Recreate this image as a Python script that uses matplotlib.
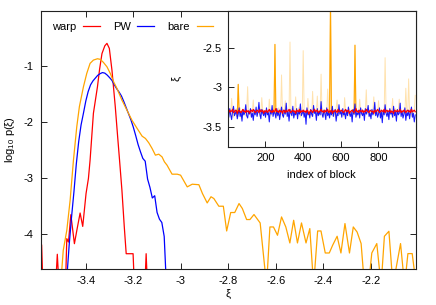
import numpy as np
import matplotlib
matplotlib.use("Agg")
import matplotlib.pyplot as plt

plt.rcParams['font.family'] = ['Liberation Sans', 'DejaVu Sans']
plt.rcParams['mathtext.fontset'] = 'custom'
plt.rcParams['mathtext.rm'] = 'Liberation Sans'
plt.rcParams['mathtext.it'] = 'Liberation Sans:italic'
plt.rcParams['font.size'] = 8

# ---------------- main panel: log10 p(xi) ----------------
warp_x = [-3.592, -3.586, -3.580, -3.528, -3.520, -3.512, -3.486, -3.480, -3.473,
          -3.463, -3.448, -3.436, -3.424, -3.413, -3.399, -3.389, -3.382, -3.368,
          -3.351, -3.342, -3.332, -3.320, -3.311, -3.301, -3.290, -3.276, -3.266,
          -3.258, -3.248, -3.238, -3.230, -3.201, -3.195, -3.152, -3.146, -3.140]
warp_y = [-5.0, -4.20, -5.0, -5.0, -4.37, -5.0, -5.0, -4.09, -4.15,
          -3.66, -4.18, -3.90, -3.63, -3.87, -3.28, -3.01, -2.68, -1.84,
          -1.365, -1.05, -0.77, -0.63, -0.586, -0.676, -1.065, -1.72, -2.26,
          -2.68, -3.22, -3.88, -4.36, -4.36, -5.0, -5.0, -4.36, -5.0]

pw_x = [-3.49, -3.48, -3.47, -3.46, -3.45, -3.44, -3.43, -3.42, -3.41, -3.40,
        -3.39, -3.38, -3.37, -3.36, -3.35, -3.34, -3.33, -3.32, -3.31, -3.30,
        -3.29, -3.28, -3.27, -3.26, -3.25, -3.24, -3.23, -3.22, -3.21, -3.20,
        -3.19, -3.18, -3.17, -3.16, -3.15, -3.14, -3.13, -3.12, -3.11, -3.10,
        -3.09, -3.08, -3.07, -3.06]
pw_y = [-5.0, -4.8, -4.2, -3.70, -3.25, -2.75, -2.35, -2.05, -1.84, -1.62,
        -1.45, -1.33, -1.26, -1.21, -1.16, -1.13, -1.11, -1.12, -1.155, -1.20,
        -1.25, -1.33, -1.40, -1.46, -1.53, -1.63, -1.74, -1.85, -1.96, -2.09,
        -2.24, -2.40, -2.53, -2.65, -2.70, -3.02, -3.17, -3.36, -3.32, -3.62,
        -3.74, -3.80, -4.05, -5.0]

bare_x = [-3.506, -3.495, -3.480, -3.466, -3.452, -3.438, -3.427, -3.410, -3.396, -3.382,
          -3.368, -3.351, -3.339, -3.326, -3.311, -3.297, -3.283, -3.269, -3.248, -3.227,
          -3.206, -3.184, -3.163, -3.149, -3.135, -3.121, -3.107, -3.093, -3.079, -3.069,
          -3.058, -3.037, -3.015, -3.001, -2.973, -2.952, -2.924, -2.909, -2.889, -2.873,
          -2.861, -2.840, -2.821, -2.807, -2.790, -2.773, -2.755, -2.741, -2.723, -2.709,
          -2.692, -2.666, -2.639, -2.625, -2.610, -2.593, -2.576, -2.558, -2.541, -2.525,
          -2.509, -2.492, -2.473, -2.457, -2.441, -2.424, -2.410, -2.392, -2.375, -2.361,
          -2.342, -2.326, -2.309, -2.290, -2.274, -2.258, -2.241, -2.227, -2.210, -2.196,
          -2.175, -2.157, -2.143, -2.124, -2.107, -2.075, -2.058, -2.044, -2.026, -2.009]
bare_y = [-4.93, -4.30, -3.94, -3.40, -2.68, -2.08, -1.72, -1.365, -1.125, -0.945,
          -0.886, -0.862, -0.873, -0.927, -1.006, -1.125, -1.275, -1.394, -1.604, -1.784,
          -1.963, -2.112, -2.251, -2.292, -2.37, -2.472, -2.592, -2.574, -2.623, -2.712,
          -2.772, -2.933, -2.933, -2.951, -3.161, -3.113, -3.122, -3.28, -3.449, -3.338,
          -3.370, -3.508, -3.508, -3.952, -3.621, -3.621, -3.460, -3.549, -3.747, -3.747,
          -3.657, -3.808, -4.93, -3.880, -3.880, -4.029, -3.700, -3.880, -4.167, -3.760,
          -4.167, -3.808, -4.167, -3.909, -4.93, -3.952, -3.952, -4.347, -4.347, -4.209,
          -4.047, -4.347, -3.819, -4.347, -3.880, -3.970, -4.178, -4.93, -4.93, -4.347,
          -4.178, -4.93, -4.047, -3.957, -4.93, -4.178, -4.93, -4.358, -4.358, -4.93]

main_xticks = [-3.4, -3.2, -3.0, -2.8, -2.6, -2.4, -2.2]
main_xticklabels = ['-3.4', '-3.2', '-3', '-2.8', '-2.6', '-2.4', '-2.2']
main_yticks = [-1, -2, -3, -4]
main_yticklabels = ['-1', '-2', '-3', '-4']

# ---------------- inset: xi per block ----------------
inset_blocks = np.arange(1, 1001, 5)

inset_bare = [
    -3.30, -3.36, -3.28, -3.35, -3.14, -3.31, -3.38, -3.29, -3.34, -3.27,
    -3.37, -2.96, -3.32, -3.26, -3.39, -3.30, -3.35, -3.28, -3.33, -3.36,
    -3.29, -2.99, -3.34, -3.31, -3.27, -3.38, -3.30, -3.16, -3.35, -3.32,
    -3.28, -3.36, -3.31, -3.25, -3.37, -3.33, -3.13, -3.29, -3.34, -3.30,
    -3.38, -3.27, -3.32, -3.35, -3.15, -3.31, -3.36, -3.28, -3.33, -3.30,
    -2.45, -3.34, -3.29, -3.37, -3.26, -3.32, -3.35, -2.84, -3.30, -3.38,
    -3.31, -3.17, -3.33, -3.28, -3.36, -3.30, -2.42, -3.34, -3.27, -3.32,
    -3.37, -3.29, -3.12, -3.35, -3.31, -3.26, -3.33, -3.38, -3.30, -3.34,
    -2.53, -3.28, -3.36, -3.31, -3.33, -3.14, -3.29, -3.35, -3.30, -3.37,
    -3.05, -3.32, -3.27, -3.34, -3.30, -3.11, -3.36, -3.29, -3.33, -2.83,
    -3.31, -3.38, -3.28, -3.35, -3.30, -3.33, -3.02, -3.27, -3.34, -1.90,
    -3.31, -3.36, -3.29, -3.32, -3.38, -3.26, -3.16, -3.33, -3.30, -3.35,
    -3.28, -3.34, -3.31, -3.37, -3.13, -3.29, -3.33, -3.30, -3.36, -3.27,
    -3.32, -3.35, -3.30, -3.28, -3.34, -2.46, -3.31, -3.37, -3.29, -3.33,
    -3.15, -3.30, -3.35, -3.28, -3.32, -3.36, -3.30, -3.03, -3.34, -3.27,
    -3.31, -3.38, -3.29, -3.33, -3.30, -3.12, -3.35, -3.28, -3.32, -3.36,
    -3.17, -3.31, -3.34, -3.29, -3.37, -3.30, -3.33, -2.62, -3.28, -3.35,
    -3.31, -3.36, -3.29, -3.34, -3.30, -3.14, -3.38, -3.32, -3.27, -3.33,
    -3.35, -3.30, -3.15, -3.28, -3.34, -3.31, -3.36, -3.29, -3.33, -3.01,
    -3.30, -3.35, -2.89, -3.32, -3.28, -3.37, -3.31, -3.34, -3.29, -3.10]
bare_strong_spikes = [11, 50, 109, 135]   # indices of the strongest peaks

inset_pw = [
    -3.31, -3.38, -3.27, -3.35, -3.41, -3.30, -3.24, -3.36, -3.33, -3.29,
    -3.40, -3.34, -3.26, -3.37, -3.31, -3.43, -3.28, -3.35, -3.32, -3.22,
    -3.36, -3.39, -3.30, -3.34, -3.27, -3.38, -3.33, -3.42, -3.29, -3.35,
    -3.25, -3.37, -3.31, -3.19, -3.34, -3.40, -3.28, -3.33, -3.36, -3.30,
    -3.38, -3.26, -3.35, -3.32, -3.44, -3.29, -3.34, -3.23, -3.37, -3.31,
    -3.33, -3.39, -3.27, -3.36, -3.30, -3.41, -3.32, -3.25, -3.35, -3.38,
    -3.29, -3.34, -3.20, -3.37, -3.31, -3.43, -3.28, -3.33, -3.36, -3.24,
    -3.39, -3.32, -3.35, -3.27, -3.40, -3.30, -3.34, -3.21, -3.36, -3.33,
    -3.29, -3.38, -3.31, -3.47, -3.26, -3.35, -3.32, -3.39, -3.28, -3.34,
    -3.37, -3.23, -3.33, -3.30, -3.42, -3.27, -3.36, -3.31, -3.35, -3.18,
    -3.34, -3.38, -3.29, -3.33, -3.41, -3.26, -3.36, -3.32, -3.39, -3.30,
    -3.35, -3.24, -3.37, -3.31, -3.28, -3.43, -3.33, -3.36, -3.22, -3.34,
    -3.30, -3.38, -3.27, -3.35, -3.32, -3.40, -3.29, -3.36, -3.25, -3.33,
    -3.37, -3.31, -3.44, -3.28, -3.34, -3.21, -3.38, -3.32, -3.35, -3.29,
    -3.39, -3.26, -3.33, -3.36, -3.30, -3.42, -3.27, -3.34, -3.31, -3.23,
    -3.37, -3.33, -3.40, -3.28, -3.35, -3.32, -3.19, -3.36, -3.30, -3.38,
    -3.34, -3.26, -3.39, -3.31, -3.45, -3.29, -3.35, -3.22, -3.33, -3.37,
    -3.30, -3.41, -3.27, -3.34, -3.32, -3.38, -3.24, -3.36, -3.31, -3.43,
    -3.28, -3.35, -3.33, -3.20, -3.37, -3.30, -3.39, -3.34, -3.26, -3.42,
    -3.32, -3.36, -3.29, -3.40, -3.31, -3.25, -3.38, -3.33, -3.44, -3.35]

inset_warp = [
    -3.30, -3.32, -3.29, -3.31, -3.30, -3.28, -3.32, -3.31, -3.29, -3.30,
    -3.33, -3.30, -3.29, -3.31, -3.32, -3.30, -3.28, -3.31, -3.30, -3.32,
    -3.29, -3.31, -3.30, -3.33, -3.30, -3.29, -3.31, -3.28, -3.30, -3.32,
    -3.31, -3.29, -3.30, -3.32, -3.28, -3.31, -3.30, -3.29, -3.33, -3.30,
    -3.31, -3.29, -3.32, -3.30, -3.28, -3.31, -3.30, -3.32, -3.29, -3.31,
    -3.30, -3.27, -3.31, -3.30, -3.32, -3.29, -3.31, -3.30, -3.33, -3.29,
    -3.30, -3.32, -3.29, -3.31, -3.30, -3.28, -3.31, -3.32, -3.30, -3.29,
    -3.31, -3.30, -3.33, -3.29, -3.30, -3.31, -3.28, -3.32, -3.30, -3.31,
    -3.29, -3.31, -3.30, -3.32, -3.29, -3.30, -3.34, -3.31, -3.29, -3.30,
    -3.32, -3.30, -3.28, -3.31, -3.30, -3.29, -3.32, -3.31, -3.30, -3.28,
    -3.31, -3.30, -3.32, -3.29, -3.31, -3.30, -3.28, -3.32, -3.30, -3.31,
    -3.29, -3.33, -3.30, -3.31, -3.29, -3.30, -3.32, -3.28, -3.31, -3.30,
    -3.30, -3.29, -3.31, -3.32, -3.30, -3.28, -3.31, -3.30, -3.29, -3.33,
    -3.31, -3.30, -3.29, -3.31, -3.32, -3.30, -3.27, -3.31, -3.30, -3.32,
    -3.29, -3.30, -3.31, -3.29, -3.32, -3.30, -3.31, -3.28, -3.30, -3.31,
    -3.32, -3.29, -3.30, -3.31, -3.30, -3.33, -3.29, -3.31, -3.30, -3.28,
    -3.30, -3.32, -3.31, -3.29, -3.30, -3.31, -3.28, -3.32, -3.30, -3.29,
    -3.31, -3.30, -3.29, -3.32, -3.30, -3.31, -3.33, -3.29, -3.30, -3.31,
    -3.29, -3.31, -3.30, -3.28, -3.32, -3.30, -3.31, -3.29, -3.30, -3.32,
    -3.30, -3.29, -3.31, -3.30, -3.32, -3.28, -3.31, -3.30, -3.29, -3.31]

inset_xticks = [200, 400, 600, 800]
inset_yticks = [-2.5, -3.0, -3.5]
inset_yticklabels = ['-2.5', '-3', '-3.5']

C_WARP = '#ff0000'
C_PW = '#0000ff'
C_BARE = '#ffa500'
EDGE = '#222222'

fig = plt.figure(figsize=(4.36, 3.05), dpi=100)
ax = fig.add_axes([0.0933, 0.117, 0.8608, 0.8479])

ax.plot(warp_x, warp_y, color=C_WARP, lw=0.9, label='warp')
ax.plot(pw_x, pw_y, color=C_PW, lw=0.9, label='PW')
ax.plot(bare_x, bare_y, color=C_BARE, lw=0.9, label='bare')

ax.set_xlim(-3.59, -2.01)
ax.set_ylim(-4.64, 0.0)
ax.set_xticks(main_xticks)
ax.set_xticklabels(main_xticklabels)
ax.set_yticks(main_yticks)
ax.set_yticklabels(main_yticklabels)
ax.tick_params(direction='in', length=4, width=0.7, top=True, right=True,
               labelsize=8, pad=5, color=EDGE)
for s in ax.spines.values():
    s.set_color(EDGE)
    s.set_linewidth(0.8)

ax.set_xlabel('ξ', fontsize=8)
ax.xaxis.set_label_coords(0.5, -0.075)
ax.set_ylabel(r'log$_{\mathregular{10}}$ p(ξ)', fontsize=8)
ax.yaxis.set_label_coords(-0.064, 0.5)

leg = ax.legend(ncol=3, markerfirst=False, frameon=False, loc='upper left',
                bbox_to_anchor=(0.03, 0.955), borderaxespad=0, borderpad=0,
                handlelength=1.5, handletextpad=0.6, columnspacing=1.2,
                fontsize=8)

# inset
axi = fig.add_axes([0.5222, 0.518, 0.4319, 0.4469])
axi.set_facecolor('white')
axi.plot(inset_blocks, inset_bare, color=C_BARE, lw=0.7, alpha=0.32)
for i in bare_strong_spikes:
    axi.plot(inset_blocks[i-1:i+2], inset_bare[i-1:i+2], color=C_BARE, lw=0.8)
axi.plot(inset_blocks, inset_pw, color=C_PW, lw=0.75, alpha=0.9)
axi.plot(inset_blocks, inset_warp, color=C_WARP, lw=0.9)
axi.set_xlim(0, 1000)
axi.set_ylim(-3.76, -2.02)
axi.set_xticks(inset_xticks)
axi.set_yticks(inset_yticks)
axi.set_yticklabels(inset_yticklabels)
axi.tick_params(direction='in', length=4, width=0.7, labelsize=8, pad=4, color=EDGE)
for s in axi.spines.values():
    s.set_color(EDGE)
    s.set_linewidth(0.8)
axi.set_xlabel('index of block', fontsize=8)
axi.xaxis.set_label_coords(0.495, -0.165)
axi.set_ylabel('ξ', fontsize=8)
axi.yaxis.set_label_coords(-0.243, 0.506)

fig.savefig('out.png', dpi=100)
